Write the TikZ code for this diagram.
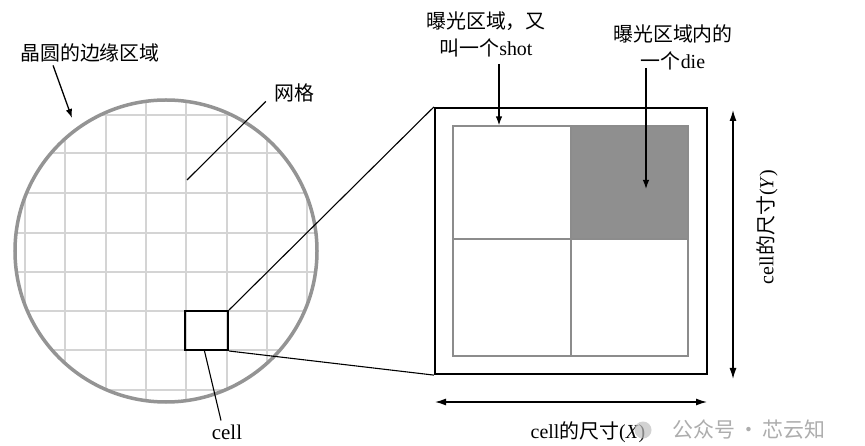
\documentclass[tikz,border=0pt]{standalone}
\usepackage{fontspec}
\setmainfont{Liberation Serif}
\newfontfamily\cjk{Noto Sans CJK SC}
\usetikzlibrary{arrows.meta}
\begin{document}
\begin{tikzpicture}[x=1bp,y=-1bp,
  lbl/.style={font=\fontsize{20}{27}\selectfont, inner sep=0pt, align=center},
  pointer/.style={line width=1.3bp, -{Latex[length=9bp,width=6.5bp]}},
  leader/.style={line width=1.1bp},
  dimline/.style={line width=1.3bp, {Latex[length=11bp,width=7bp]}-{Latex[length=11bp,width=7bp]}},
  gridline/.style={line width=1.3bp, draw=black!17},
  fieldline/.style={line width=1.2bp, draw=black!45},
]
\useasboundingbox (0,0) rectangle (865,446);
\fill[white] (0,0) rectangle (865,446);
% wafer grid
\begin{scope}
  \clip (166,251) circle (152);
  \foreach \x in {25,65,106,146,186,227,267,307} \draw[gridline] (\x,90) -- (\x,410);
  \foreach \y in {115,153,193,233,272,311,350,390} \draw[gridline] (10,\y) -- (325,\y);
\end{scope}
\node[circle, draw=black!42, line width=3.5bp, minimum size=302bp, inner sep=0pt] (wafer) at (166,251) {};
% cell on wafer
\node[draw, line width=2bp, minimum width=43bp, minimum height=39bp, inner sep=0pt] (cell) at (206.5,330.5) {};
% magnified cell
\node[draw, line width=2.2bp, minimum width=272bp, minimum height=266bp, inner sep=0pt] (shot) at (571,241) {};
\fill[black!44] (571,126) rectangle (688,239);
\node[fieldline, draw, minimum width=235bp, minimum height=230bp, inner sep=0pt] (field) at (570.5,241) {};
\draw[fieldline] (571,126) -- (571,356);
\draw[fieldline] (453,239) -- (688,239);
% zoom connectors
\draw[leader] (cell.north east) -- (shot.north west);
\draw[leader] (cell.south east) -- (shot.south west);
% labels
\node[lbl] (edge) at (90,53) {\cjk 晶圆的边缘区域};
\coordinate (edgetip) at (72,118);
\draw[pointer] ([xshift=33bp,yshift=-3bp]edge.south west) -- (edgetip);

\node[lbl] (gridlbl) at (294,93) {\cjk 网格};
\coordinate (gridpt) at (187,180);
\draw[leader] (gridpt) -- ([xshift=-8bp,yshift=1bp]gridlbl.south west);

\node[lbl, font=\fontsize{21}{22}\selectfont] (celllbl) at (227,432) {cell};
\draw[leader] ([xshift=-2bp]cell.south) -- ([xshift=-6bp,yshift=4bp]celllbl.north);

\node[lbl] (shotlbl) at (486,34) {{\cjk 曝光区域，又}\\{\cjk 叫一个}shot};
\draw[pointer] ([xshift=13bp,yshift=-7bp]shotlbl.south) -- ([xshift=13bp]shotlbl.south |- field.north);

\node[lbl] (dielbl) at (673,47) {{\cjk 曝光区域内的}\\{\cjk 一个}die};
\coordinate (dietip) at (646,189);
\draw[pointer] (646,68) -- (dietip);

% dimensions
\coordinate (ytop) at (733,110);
\coordinate (ybot) at (733,379);
\draw[dimline] (ytop) -- (ybot);
\node[lbl, rotate=90] (ylbl) at (767,227) {cell{\cjk 的尺寸}(\textit{Y})};

\coordinate (xleft) at (435,402);
\coordinate (xright) at (707,402);
\draw[dimline] (xleft) -- (xright);
\node[lbl] (xlbl) at (588,432) {cell{\cjk 的尺寸}(\textit{X})};

% watermark
\node[circle, fill=black!25, opacity=0.7, minimum size=17bp, inner sep=0pt] (logo) at (643,430) {};
\node[lbl, text=black!32, font=\cjk\fontsize{21}{22}\selectfont] (mark) at (749,430) {公众号\,·\,芯云知};
\end{tikzpicture}
\end{document}
